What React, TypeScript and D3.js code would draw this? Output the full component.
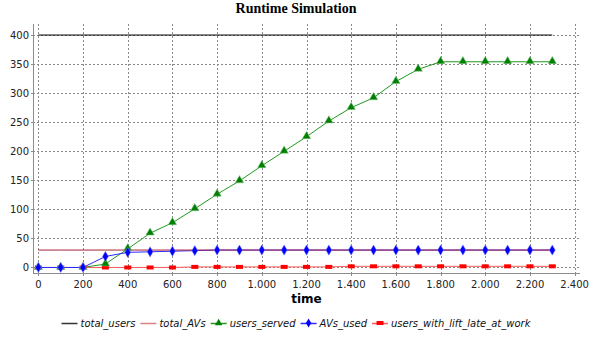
import React, { useEffect, useRef } from "react";
import * as d3 from "d3";

const times = [0, 100, 200, 300, 400, 500, 600, 700, 800, 900, 1000, 1100, 1200, 1300, 1400, 1500, 1600, 1700, 1800, 1900, 2000, 2100, 2200, 2300];
const totalUsers = times.map(() => 400);
const totalAVs = times.map(() => 30);
const usersServed = [0, 0, 0, 6, 32, 59, 77, 101, 126, 149, 175, 200, 225, 252, 275, 292, 320, 341, 354, 354, 354, 354, 354, 354];
const avsUsed = [0, 0, 0, 19, 26, 27, 28, 29, 30, 30, 30, 30, 30, 30, 30, 30, 30, 30, 30, 30, 30, 30, 30, 30];
const usersLate = [0, 0, 0, 0, 0, 0, 0, 1, 1, 1, 1, 1, 1, 1, 2, 2, 2, 2, 2, 2, 2, 2, 2, 2];
const xTicks = [0, 200, 400, 600, 800, 1000, 1200, 1400, 1600, 1800, 2000, 2200, 2400];
const yTicks = [0, 50, 100, 150, 200, 250, 300, 350, 400];
const seriesNames = ["total_users", "total_AVs", "users_served", "AVs_used", "users_with_lift_late_at_work"];

const W = 593;
const H = 338;
const left = 33, right = 580, top = 24, bottom = 273;

const fmt = (v: number) => {
  const s = String(v);
  return s.length > 3 ? s.slice(0, s.length - 3) + "." + s.slice(-3) : s;
};

export default function App() {
  const ref = useRef<SVGSVGElement>(null);

  useEffect(() => {
    const svg = d3.select(ref.current);
    svg.selectAll("*").remove();
    const x = d3.scaleLinear().domain([-24, 2424]).range([left, right]);
    const y = d3.scaleLinear().domain([-9.5, 419]).range([bottom, top]);

    svg.append("rect").attr("width", W).attr("height", H).attr("fill", "#fff");

    // title
    svg.append("text").attr("x", 296).attr("y", 13).attr("text-anchor", "middle")
      .attr("font-family", "Liberation Serif").attr("font-weight", "bold").attr("font-size", 14)
      .text("Runtime Simulation");

    // grid
    const g = svg.append("g");
    g.selectAll("line.vg").data(xTicks).join("line")
      .attr("x1", (d) => Math.round(x(d)) + 0.5).attr("x2", (d) => Math.round(x(d)) + 0.5)
      .attr("y1", top).attr("y2", bottom)
      .attr("stroke", "#8a8a8a").attr("stroke-width", 1).attr("stroke-dasharray", "2,2");
    g.selectAll("line.hg").data(yTicks).join("line")
      .attr("y1", (d) => Math.round(y(d)) + 0.5).attr("y2", (d) => Math.round(y(d)) + 0.5)
      .attr("x1", left).attr("x2", right)
      .attr("stroke", "#8a8a8a").attr("stroke-width", 1).attr("stroke-dasharray", "2,2");

    // axes
    svg.append("line").attr("x1", left + 0.5).attr("x2", left + 0.5).attr("y1", top).attr("y2", bottom)
      .attr("stroke", "#8c8c8c");
    svg.append("line").attr("x1", left).attr("x2", right).attr("y1", bottom + 0.5).attr("y2", bottom + 0.5)
      .attr("stroke", "#8c8c8c");

    svg.selectAll("line.yt").data(yTicks).join("line")
      .attr("x1", left - 2).attr("x2", left).attr("y1", (d) => Math.round(y(d)) + 0.5).attr("y2", (d) => Math.round(y(d)) + 0.5)
      .attr("stroke", "#8c8c8c");
    svg.selectAll("text.yl").data(yTicks).join("text")
      .attr("x", left - 4).attr("y", (d) => y(d) + 4).attr("text-anchor", "end")
      .attr("font-family", "DejaVu Sans").attr("font-size", 10).attr("fill", "#222")
      .text((d) => fmt(d));
    svg.selectAll("line.xt").data(xTicks).join("line")
      .attr("x1", (d) => Math.round(x(d)) + 0.5).attr("x2", (d) => Math.round(x(d)) + 0.5).attr("y1", bottom).attr("y2", bottom + 3)
      .attr("stroke", "#8c8c8c");
    svg.selectAll("text.xl").data(xTicks).join("text")
      .attr("x", (d) => x(d)).attr("y", bottom + 15).attr("text-anchor", "middle")
      .attr("font-family", "DejaVu Sans").attr("font-size", 10).attr("fill", "#222")
      .text((d) => fmt(d));
    svg.append("text").attr("x", (left + right) / 2).attr("y", 303).attr("text-anchor", "middle")
      .attr("font-family", "DejaVu Sans").attr("font-weight", "bold").attr("font-size", 12)
      .text("time");

    const line = (vals: number[]) =>
      d3.line<number>().x((_, i) => x(times[i])).y((d) => y(d))(vals) as string;

    // series lines
    svg.append("path").attr("d", line(totalUsers)).attr("fill", "none").attr("stroke", "#000").attr("stroke-width", 1);
    svg.append("path").attr("d", line(usersLate)).attr("fill", "none").attr("stroke", "#ff5a5a").attr("stroke-width", 1);
    svg.append("path").attr("d", line(usersServed)).attr("fill", "none").attr("stroke", "#1f9a1f").attr("stroke-width", 1);
    svg.append("path").attr("d", line(avsUsed)).attr("fill", "none").attr("stroke", "#2b2bff").attr("stroke-width", 1);
    svg.append("path").attr("d", line(totalAVs)).attr("fill", "none").attr("stroke", "#a8203a").attr("stroke-width", 1);

    // markers
    svg.selectAll("rect.late").data(usersLate).join("rect")
      .attr("x", (_, i) => x(times[i]) - 3.5).attr("y", (d) => y(d) - 2)
      .attr("width", 7).attr("height", 4).attr("fill", "#ff0000");

    const tri = d3.symbol().type(d3.symbolTriangle).size(30)();
    svg.selectAll("path.srv").data(usersServed).join("path")
      .attr("d", tri as string)
      .attr("transform", (d, i) => `translate(${x(times[i])},${y(d) - 0.5})`)
      .attr("fill", "#008000").attr("stroke", "#7fc07f").attr("stroke-width", 0.5);

    const dia = d3.symbol().type(d3.symbolDiamond).size(30)();
    svg.selectAll("path.av").data(avsUsed).join("path")
      .attr("d", dia as string)
      .attr("transform", (d, i) => `translate(${x(times[i])},${y(d)})`)
      .attr("fill", "#0000ff").attr("stroke", "#8080ff").attr("stroke-width", 0.5);

    // legend
    const lg = svg.append("g");
    const colors = ["#333", "#d98080", "#1f9a1f", "#2b2bff", "#ff5a5a"];
    let cx = 0;
    const ly = 323;
    seriesNames.forEach((name, i) => {
      const item = lg.append("g").attr("transform", `translate(${cx},0)`);
      item.append("line").attr("x1", 0).attr("x2", 16).attr("y1", ly + 0.5).attr("y2", ly + 0.5)
        .attr("stroke", colors[i]).attr("stroke-width", 1.5);
      if (i === 2) {
        item.append("path").attr("d", d3.symbol().type(d3.symbolTriangle).size(24)() as string)
          .attr("transform", `translate(8,${ly})`).attr("fill", "#008000");
      } else if (i === 3) {
        item.append("path").attr("d", d3.symbol().type(d3.symbolDiamond).size(24)() as string)
          .attr("transform", `translate(8,${ly})`).attr("fill", "#0000ff");
      } else if (i === 4) {
        item.append("rect").attr("x", 4.5).attr("y", ly - 2).attr("width", 7).attr("height", 4).attr("fill", "#ff0000");
      }
      const t = item.append("text").attr("x", 19).attr("y", ly + 4)
        .attr("font-family", "DejaVu Sans").attr("font-style", "italic").attr("font-size", 10)
        .attr("fill", "#111").text(name);
      const w = (t.node() as SVGTextElement).getComputedTextLength();
      cx += 19 + w + 5;
    });
    const total = cx - 5;
    lg.attr("transform", `translate(${296 - total / 2},0)`);
  }, []);

  return <svg ref={ref} width={W} height={H} style={{ display: "block", position: "absolute", left: 0, top: 0 }} />;
}
